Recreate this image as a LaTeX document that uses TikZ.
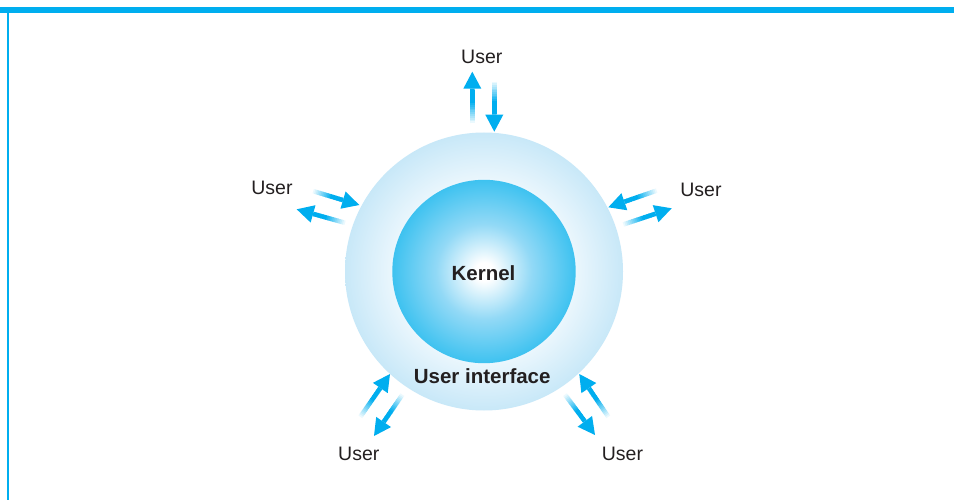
\documentclass[tikz,border=0pt]{standalone}
\usepackage{fontspec}
\setmainfont{Liberation Sans}
\usetikzlibrary{calc}
\definecolor{ucyan}{HTML}{00AEEF}
\definecolor{txt}{HTML}{231F20}
\definecolor{ringin}{HTML}{ECF7FD}
\definecolor{ringout}{HTML}{C8E8F8}
\definecolor{kmid}{HTML}{92D9F6}
\definecolor{kout}{HTML}{3EC2F0}
\pgfdeclareradialshading{ringshade}{\pgfpoint{0bp}{0bp}}{color(0bp)=(white);color(16bp)=(ringin);color(25bp)=(ringout);color(50bp)=(ringout)}
\pgfdeclareradialshading{kernshade}{\pgfpoint{0bp}{0bp}}{color(0bp)=(white);color(2.5bp)=(white);color(13bp)=(kmid);color(25bp)=(kout);color(50bp)=(kout)}
\newcommand\fadearr[2]{%
  \coordinate (hb) at ($(#2)!17pt!(#1)$);
  \foreach \i in {0,...,19} {
    \pgfmathtruncatemacro\pc{min(100,\i*100/12)}
    \draw[line width=4.5pt, draw=ucyan!\pc!white] ($(#1)!\i/20!(hb)$) -- ($(#1)!{min(1,(\i+1.4)/20)}!(hb)$);
  }
  \fill[ucyan] (#2) -- ($(hb)!9pt!90:(#2)$) -- ($(hb)!9pt!-90:(#2)$) -- cycle;
}
\tikzset{
  userlbl/.style={anchor=base, text=txt, font=\fontsize{19.5}{23}\selectfont, inner sep=0pt},
  boldlbl/.style={anchor=base, text=txt, font=\bfseries\fontsize{20.5}{24}\selectfont, inner sep=0pt},
}
\begin{document}
\begin{tikzpicture}[x=1pt,y=-1pt]
\useasboundingbox (0,0) rectangle (954,500);
\fill[white] (0,0) rectangle (954,500);
% frame
\fill[ucyan] (0,7) rectangle (954,13.3);
\fill[ucyan] (6.8,7) rectangle (8.6,500);
% circles
\shade[shading=ringshade] (484,271.5) circle (139);
\shade[shading=kernshade] (484,271.5) circle (91.7);
\node[boldlbl] (kernel) at (483.5,280) {Kernel};
\node[boldlbl] (ui) at (482.2,383.3) {User interface};
% users
\node[userlbl] (utop) at (481.8,63.3) {User};
\node[userlbl] (uleft) at (272,195) {User};
\node[userlbl] (uright) at (701,196.5) {User};
\node[userlbl] (ubl) at (358.8,460) {User};
\node[userlbl] (ubr) at (622.5,460) {User};
% arrow endpoints
\coordinate (t1a) at (472.3,125); \coordinate (h1a) at (472.3,71.7);
\coordinate (t1b) at (494.3,80);  \coordinate (h1b) at (494.3,131.7);
\coordinate (t2a) at (311.7,190.7); \coordinate (h2a) at (359.3,205);
\coordinate (t2b) at (346.7,223.3); \coordinate (h2b) at (296.7,209.3);
\coordinate (t3a) at (658.3,190); \coordinate (h3a) at (608.3,207.3);
\coordinate (t3b) at (621.7,225); \coordinate (h3b) at (671.7,208.3);
\coordinate (t4a) at (359.3,418.3); \coordinate (h4a) at (390,374);
\coordinate (t4b) at (403.3,393.3); \coordinate (h4b) at (374,436);
\coordinate (t5a) at (609.3,418.3); \coordinate (h5a) at (579.3,374);
\coordinate (t5b) at (564,393.3); \coordinate (h5b) at (595,435);
\fadearr{t1a}{h1a}\fadearr{t1b}{h1b}
\fadearr{t2a}{h2a}\fadearr{t2b}{h2b}
\fadearr{t3a}{h3a}\fadearr{t3b}{h3b}
\fadearr{t4a}{h4a}\fadearr{t4b}{h4b}
\fadearr{t5a}{h5a}\fadearr{t5b}{h5b}
\end{tikzpicture}
\end{document}
